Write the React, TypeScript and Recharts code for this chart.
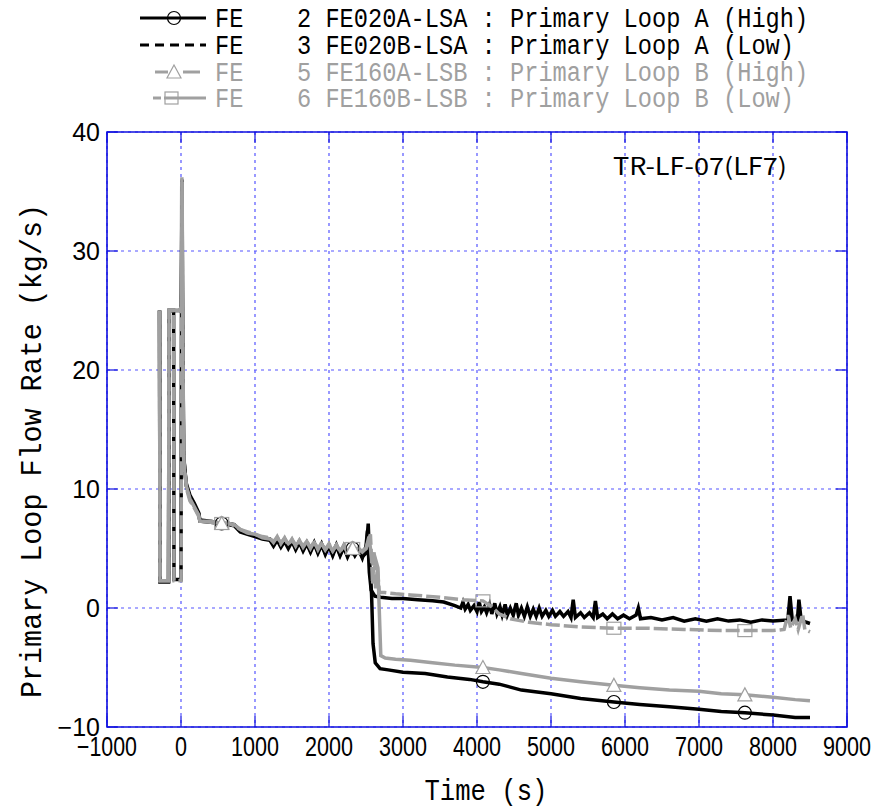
import React from "react";
import {
  CartesianGrid,
  ComposedChart,
  Line,
  ReferenceArea,
  Scatter,
  XAxis,
  YAxis,
} from "recharts";

// time (s), flow (kg/s)
const fe2Flow = [
  [-290, 25.0], [-284, 2.2], [-168, 2.2], [-162, 25.0], [-10, 25.0], [4, 25.5], [14, 36.0],
  [24, 22.0], [38, 12.5], [70, 10.5], [120, 9.5], [180, 8.8], [240, 8.0], [255, 7.4],
  [400, 7.3], [550, 7.1], [650, 7.1], [720, 7.0], [800, 6.5], [900, 6.3], [1000, 6.1],
  [1100, 5.9], [1200, 5.8], [1250, 5.4], [1300, 5.9], [1350, 5.3], [1400, 5.8], [1450, 5.2],
  [1500, 5.7], [1550, 5.0], [1600, 5.6], [1650, 4.9], [1700, 5.5], [1750, 4.8], [1800, 5.5],
  [1850, 4.7], [1900, 5.4], [1950, 4.6], [2000, 5.3], [2050, 4.5], [2100, 5.3], [2150, 4.5],
  [2200, 5.2], [2250, 4.4], [2300, 5.1], [2350, 4.5], [2400, 5.0], [2450, 4.3], [2500, 4.6],
  [2530, 7.1], [2550, 3.8], [2575, 1.2], [2595, -3.0], [2625, -4.6], [2690, -5.1],
  [2800, -5.2], [3000, -5.4], [3300, -5.5], [3600, -5.8], [3900, -6.0], [4080, -6.2],
  [4300, -6.4], [4600, -6.9], [5000, -7.2], [5400, -7.6], [5850, -7.9], [6200, -8.1],
  [6600, -8.3], [7000, -8.5], [7300, -8.7], [7620, -8.8], [8000, -9.0], [8300, -9.2],
  [8500, -9.2],
];

const fe3Flow = [
  [-290, 25.0], [-284, 2.2], [-168, 2.2], [-162, 25.0], [-100, 25.0], [-95, 2.4], [0, 2.4],
  [10, 35.5], [20, 24.0], [34, 13.0], [70, 10.3], [120, 9.3], [180, 8.6], [240, 7.9],
  [255, 7.3], [400, 7.2], [550, 7.1], [650, 7.0], [720, 6.9], [800, 6.4], [900, 6.2],
  [1000, 6.0], [1100, 5.8], [1200, 5.7], [1250, 5.2], [1300, 5.7], [1350, 5.1], [1400, 5.6],
  [1450, 5.0], [1500, 5.6], [1550, 4.9], [1600, 5.5], [1650, 4.8], [1700, 5.4], [1750, 4.7],
  [1800, 5.4], [1850, 4.6], [1900, 5.3], [1950, 4.5], [2000, 5.2], [2050, 4.4], [2100, 5.2],
  [2150, 4.4], [2200, 5.1], [2250, 4.3], [2300, 5.0], [2350, 4.4], [2400, 4.9], [2450, 4.2],
  [2500, 5.2], [2520, 6.5], [2545, 3.0], [2570, 1.5], [2620, 1.0], [2700, 0.9], [2850, 0.8],
  [3000, 0.8], [3200, 0.7], [3400, 0.6], [3550, 0.5], [3700, 0.2], [3780, 0.0], [3810, 0.5],
  [3840, -0.1], [3880, 0.3], [3910, -0.2], [3960, 0.2], [4000, -0.3], [4030, 0.5],
  [4060, -0.3], [4100, 0.1], [4130, -0.4], [4170, 0.3], [4200, -0.5], [4240, 0.4],
  [4270, -0.5], [4310, 0.1], [4340, -0.6], [4380, 0.3], [4410, -0.6], [4450, 0.0],
  [4490, -0.6], [4530, 0.4], [4560, -0.6], [4600, 0.0], [4640, -0.7], [4680, 0.1],
  [4720, -0.7], [4760, -0.1], [4800, -0.7], [4840, 0.0], [4880, -0.7], [4930, -0.2],
  [4970, -0.7], [5020, -0.2], [5060, -0.7], [5120, -0.3], [5170, -0.7], [5230, -0.3],
  [5270, -0.8], [5300, 0.7], [5330, -0.8], [5400, -0.4], [5450, -0.8], [5520, -0.4],
  [5570, -0.8], [5600, 0.6], [5630, -0.8], [5700, -0.5], [5760, -0.9], [5830, -0.5],
  [5900, -0.9], [5980, -0.6], [6060, -0.9], [6150, -0.6], [6180, 0.0], [6210, -0.9],
  [6350, -0.8], [6500, -1.0], [6650, -0.8], [6800, -1.1], [6950, -0.9], [7100, -1.1],
  [7250, -0.9], [7400, -1.1], [7550, -1.0], [7700, -1.2], [7850, -1.0], [8000, -1.1],
  [8200, -1.0], [8230, 1.0], [8260, -1.0], [8330, -1.0], [8350, 0.7], [8380, -1.0],
  [8450, -1.2], [8500, -1.3],
];

const fe5Flow = [
  [-290, 25.0], [-284, 2.3], [-168, 2.3], [-162, 25.0], [-10, 25.0], [6, 25.5], [15, 35.8],
  [26, 21.0], [40, 12.0], [75, 10.2], [120, 9.2], [180, 8.5], [240, 7.8], [255, 7.3],
  [400, 7.3], [550, 7.1], [650, 7.1], [720, 7.0], [800, 6.6], [900, 6.3], [1000, 6.2],
  [1100, 5.9], [1200, 5.8], [1250, 5.6], [1300, 5.9], [1350, 5.5], [1400, 5.8], [1450, 5.4],
  [1500, 5.7], [1550, 5.3], [1600, 5.6], [1650, 5.2], [1700, 5.6], [1750, 5.1], [1800, 5.5],
  [1850, 5.0], [1900, 5.4], [1950, 4.9], [2000, 5.3], [2050, 4.8], [2100, 5.3], [2150, 4.8],
  [2200, 5.2], [2250, 4.7], [2300, 5.1], [2350, 4.8], [2400, 5.0], [2450, 4.7], [2500, 5.0],
  [2540, 6.0], [2580, 4.0], [2620, 4.3], [2660, 3.4], [2700, -4.0], [2760, -4.2],
  [2900, -4.3], [3100, -4.4], [3400, -4.6], [3700, -4.8], [4080, -5.0], [4300, -5.2],
  [4600, -5.5], [5000, -5.9], [5400, -6.2], [5850, -6.5], [6200, -6.7], [6600, -6.9],
  [7000, -7.0], [7300, -7.2], [7620, -7.3], [8000, -7.5], [8300, -7.7], [8500, -7.8],
];

const fe6Flow = [
  [-290, 25.0], [-284, 2.3], [-168, 2.3], [-162, 25.0], [-100, 25.0], [-95, 2.3], [2, 2.3],
  [12, 36.2], [22, 23.0], [36, 12.5], [75, 10.0], [120, 9.0], [180, 8.4], [240, 7.7],
  [255, 7.3], [400, 7.2], [550, 7.1], [650, 7.1], [720, 6.9], [800, 6.6], [900, 6.4],
  [1000, 6.2], [1100, 6.0], [1200, 5.9], [1250, 5.5], [1300, 6.0], [1350, 5.4], [1400, 5.9],
  [1450, 5.3], [1500, 5.8], [1550, 5.2], [1600, 5.7], [1650, 5.1], [1700, 5.6], [1750, 5.0],
  [1800, 5.6], [1850, 4.9], [1900, 5.5], [1950, 4.9], [2000, 5.4], [2050, 4.8], [2100, 5.3],
  [2150, 4.7], [2200, 5.3], [2250, 4.7], [2300, 5.2], [2350, 4.8], [2400, 5.1], [2450, 4.8],
  [2500, 5.0], [2560, 6.2], [2590, 2.0], [2610, 4.7], [2630, 1.6], [2655, 3.4], [2680, 1.3],
  [2750, 1.3], [2900, 1.2], [3100, 1.1], [3300, 1.0], [3500, 0.9], [3800, 0.7], [4080, 0.6],
  [4200, 0.1], [4300, -0.5], [4450, -0.9], [4700, -1.2], [5000, -1.4], [5400, -1.6],
  [5850, -1.7], [6300, -1.7], [6800, -1.8], [7300, -1.9], [7620, -1.9], [8000, -1.9],
  [8150, -1.8], [8200, -0.6], [8240, -1.7], [8300, -0.9], [8340, -1.8], [8400, -0.5],
  [8430, -1.8], [8500, -2.0],
];

// marker positions on each curve
const fe2Marks = [[550, 7.1], [2320, 5.0], [4080, -6.2], [5850, -7.9], [7620, -8.8]];
const fe5Marks = [[550, 7.1], [2320, 5.0], [4080, -5.0], [5850, -6.5], [7620, -7.3]];
const fe6Marks = [[550, 7.1], [2320, 5.0], [4080, 0.6], [5850, -1.7], [7620, -1.9]];

const xTicks = [-1000, 0, 1000, 2000, 3000, 4000, 5000, 6000, 7000, 8000, 9000];
const yTicks = [-10, 0, 10, 20, 30, 40];

const legendRows = [
  { no: "2", text: "2 FE020A-LSA : Primary Loop A (High)", color: "#000" },
  { no: "3", text: "3 FE020B-LSA : Primary Loop A (Low)", color: "#000" },
  { no: "5", text: "5 FE160A-LSB : Primary Loop B (High)", color: "#a0a0a0" },
  { no: "6", text: "6 FE160B-LSB : Primary Loop B (Low)", color: "#a0a0a0" },
];

const PLOT_TOP = 132;
const PLOT_BOTTOM = 727;
const PLOT_LEFT = 107;
const PLOT_RIGHT = 847;
const BLUE = "#1010e0";
const GRID = "#5555ff";
const GRAY = "#a0a0a0";
const MONO = "'Liberation Mono', 'DejaVu Sans Mono', monospace";
const SANS = "'Liberation Sans', Arial, sans-serif";

const pts = (rows: number[][]) => rows.map(([t, v]) => ({ t, v }));
const fmt = (v: number) => (v < 0 ? `\u2212${Math.abs(v)}` : `${v}`);

function XTick(props: any) {
  const { x, payload } = props;
  const label = fmt(payload.value);
  return (
    <g>
      <line x1={x} x2={x} y1={PLOT_BOTTOM} y2={PLOT_BOTTOM - 11} stroke={BLUE} strokeWidth={1.2} />
      <line x1={x} x2={x} y1={PLOT_TOP} y2={PLOT_TOP + 11} stroke={BLUE} strokeWidth={1.2} />
      <text
        x={x}
        y={756}
        textAnchor="middle"
        fontSize={27}
        fontFamily={SANS}
        textLength={label.length * 12}
        lengthAdjust="spacingAndGlyphs"
        fill="#000"
      >
        {label}
      </text>
    </g>
  );
}

function YTick(props: any) {
  const { y, payload } = props;
  return (
    <g>
      <line x1={PLOT_LEFT} x2={PLOT_LEFT + 11} y1={y} y2={y} stroke={BLUE} strokeWidth={1.2} />
      <line x1={PLOT_RIGHT} x2={PLOT_RIGHT - 11} y1={y} y2={y} stroke={BLUE} strokeWidth={1.2} />
      <text x={100} y={y + 9} textAnchor="end" fontSize={25} fontFamily={SANS} fill="#000">
        {fmt(payload.value)}
      </text>
    </g>
  );
}

const circleShape = (p: any) => (
  <circle cx={p.cx} cy={p.cy} r={6.5} fill="none" stroke="#000" strokeWidth={1.2} />
);
const triangleShape = (p: any) => (
  <path
    d={`M${p.cx},${p.cy - 7} L${p.cx + 7},${p.cy + 6} L${p.cx - 7},${p.cy + 6} Z`}
    fill="#fff"
    stroke={GRAY}
    strokeWidth={1.2}
  />
);
const squareShape = (p: any) => (
  <rect x={p.cx - 7} y={p.cy - 6} width={14} height={12} fill="none" stroke={GRAY} strokeWidth={1.2} />
);

function Legend() {
  const ys = [18, 45, 72, 98];
  return (
    <g>
      <line x1={140} x2={206} y1={ys[0]} y2={ys[0]} stroke="#000" strokeWidth={3} />
      <circle cx={174} cy={ys[0]} r={6.5} fill="none" stroke="#000" strokeWidth={1.2} />
      <line x1={140} x2={206} y1={ys[1]} y2={ys[1]} stroke="#000" strokeWidth={3} strokeDasharray="9 6" />
      <line x1={155} x2={168} y1={ys[2]} y2={ys[2]} stroke={GRAY} strokeWidth={3} />
      <line x1={183} x2={200} y1={ys[2]} y2={ys[2]} stroke={GRAY} strokeWidth={3} />
      <path d={`M174,${ys[2] - 7} L181,${ys[2] + 6} L167,${ys[2] + 6} Z`} fill="#fff" stroke={GRAY} strokeWidth={1.2} />
      <line x1={153} x2={161} y1={ys[3]} y2={ys[3]} stroke={GRAY} strokeWidth={3} />
      <line x1={164} x2={206} y1={ys[3]} y2={ys[3]} stroke={GRAY} strokeWidth={3} />
      <rect x={165} y={ys[3] - 6} width={13} height={12} fill="none" stroke={GRAY} strokeWidth={1.2} />
      {legendRows.map((r, i) => (
        <g key={r.no} fill={r.color} fontFamily={MONO} fontSize={27}>
          <text x={215} y={ys[i] + 9} textLength={28.4} lengthAdjust="spacingAndGlyphs">
            FE
          </text>
          <text x={297} y={ys[i] + 9} textLength={r.text.length * 14.2} lengthAdjust="spacingAndGlyphs">
            {r.text}
          </text>
        </g>
      ))}
    </g>
  );
}

export default function App() {
  return (
    <div style={{ position: "absolute", left: 0, top: 0, width: 881, height: 808, background: "#fff" }}>
      <ComposedChart
        width={881}
        height={808}
        margin={{ top: PLOT_TOP, right: 881 - PLOT_RIGHT, bottom: 0, left: 0 }}
      >
        <CartesianGrid stroke={GRID} strokeDasharray="3 4" strokeWidth={1.2} />
        <XAxis
          type="number"
          dataKey="t"
          domain={[-1000, 9000]}
          ticks={xTicks}
          allowDataOverflow
          height={808 - PLOT_BOTTOM}
          axisLine={false}
          tickLine={false}
          tick={(p: any) => <XTick {...p} />}
        />
        <YAxis
          type="number"
          dataKey="v"
          domain={[-10, 40]}
          ticks={yTicks}
          allowDataOverflow
          width={PLOT_LEFT}
          axisLine={false}
          tickLine={false}
          tick={(p: any) => <YTick {...p} />}
        />
        <ReferenceArea
          x1={-1000}
          x2={9000}
          y1={-10}
          y2={40}
          fill="none"
          stroke={BLUE}
          strokeWidth={1.6}
          ifOverflow="visible"
        />
        <Line data={pts(fe2Flow)} dataKey="v" stroke="#000" strokeWidth={3.5} dot={false} activeDot={false} isAnimationActive={false} type="linear" />
        <Line data={pts(fe3Flow)} dataKey="v" stroke="#000" strokeWidth={3.5} dot={false} activeDot={false} isAnimationActive={false} type="linear" />
        <Line data={pts(fe5Flow)} dataKey="v" stroke={GRAY} strokeWidth={3.5} dot={false} activeDot={false} isAnimationActive={false} type="linear" />
        <Line data={pts(fe6Flow)} dataKey="v" stroke={GRAY} strokeWidth={3.5} strokeDasharray="14 4" dot={false} activeDot={false} isAnimationActive={false} type="linear" />
        <Scatter data={pts(fe2Marks)} dataKey="v" shape={circleShape} isAnimationActive={false} />
        <Scatter data={pts(fe5Marks)} dataKey="v" shape={triangleShape} isAnimationActive={false} />
        <Scatter data={pts(fe6Marks)} dataKey="v" shape={squareShape} isAnimationActive={false} />
      </ComposedChart>
      <svg width={881} height={808} style={{ position: "absolute", left: 0, top: 0, pointerEvents: "none" }}>
        <Legend />
        <text x={613} y={175} fontSize={24} fontFamily="'Noto Sans CJK JP', 'Noto Sans', sans-serif" textLength={174} lengthAdjust="spacingAndGlyphs" fill="#000">
          TR-LF-07(LF7)
        </text>
        <text x={486} y={800} textAnchor="middle" fontSize={30} fontFamily={MONO} textLength={123} lengthAdjust="spacingAndGlyphs" fill="#000">
          Time (s)
        </text>
        <text
          transform="translate(41, 451) rotate(-90)"
          textAnchor="middle"
          fontSize={30}
          fontFamily={MONO}
          textLength={494}
          lengthAdjust="spacingAndGlyphs"
          fill="#000"
        >
          Primary Loop Flow Rate (kg/s)
        </text>
      </svg>
    </div>
  );
}
